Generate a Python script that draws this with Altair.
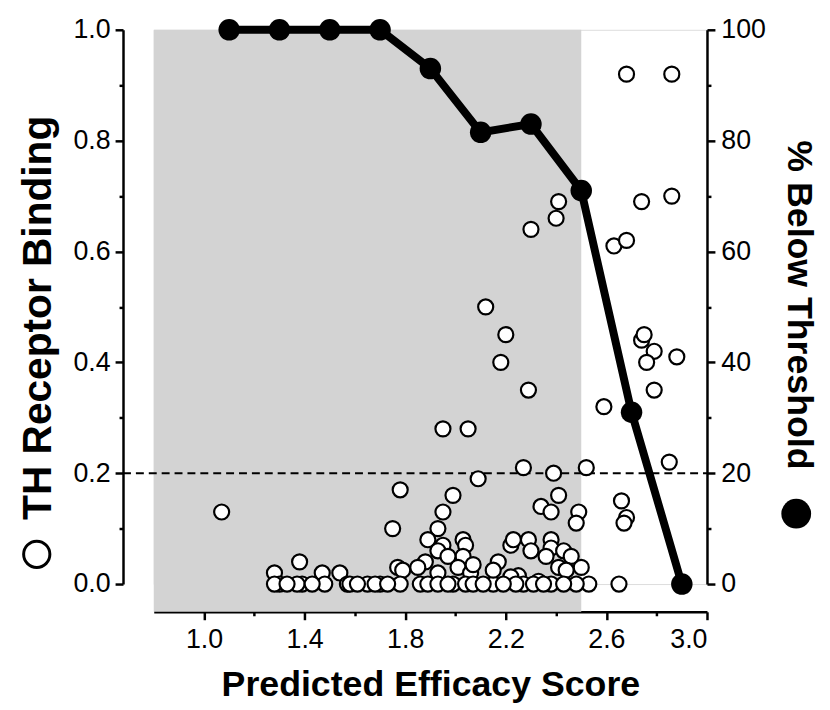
import altair as alt
import pandas as pd

# ---- data ----
score_x = [
    1.07, 2.12, 2.20, 2.18, 2.29, 2.30, 2.41, 2.40, 1.95, 2.05,
    2.27, 2.39, 2.52, 2.09, 1.78, 1.99, 2.41, 2.34, 2.38, 2.49,
    2.48, 2.68, 2.86, 2.74, 2.86, 2.63, 2.68, 2.74, 2.75, 2.79,
    2.76, 2.88, 2.79, 2.59, 2.85, 2.66, 2.68, 2.67, 2.50, 2.53,
    2.65,
    1.38, 1.28, 1.30, 1.28, 1.39, 1.37, 1.47, 1.48, 1.54, 1.57,
    1.75, 1.95, 1.93, 1.89, 1.95, 1.93, 2.03, 2.04, 2.03, 1.97,
    1.88, 1.85, 1.77, 1.79, 1.93, 2.01, 2.06, 2.07, 1.58, 1.65,
    1.70, 1.68, 1.78, 1.86, 1.89, 1.93, 1.99, 2.04, 2.07, 2.15,
    2.17, 2.15, 2.22, 2.23, 2.29, 2.30, 2.38, 2.38, 2.36, 2.43,
    2.46, 2.41, 2.44, 2.25, 2.22, 2.27, 2.24, 2.33, 2.38, 2.48,
    1.33, 1.43, 1.61, 1.73, 1.97, 2.11, 2.19, 2.31, 2.35, 2.43,
]
binding_y = [
    0.13, 0.50, 0.45, 0.40, 0.35, 0.64, 0.69, 0.66, 0.28, 0.28,
    0.21, 0.20, 0.21, 0.19, 0.17, 0.16, 0.16, 0.14, 0.13, 0.13,
    0.11, 0.92, 0.92, 0.69, 0.70, 0.61, 0.62, 0.44, 0.45, 0.42,
    0.40, 0.41, 0.35, 0.32, 0.22, 0.15, 0.12, 0.11, 0.03, 0.00,
    0.00,
    0.04, 0.02, 0.00, 0.00, 0.00, 0.00, 0.02, 0.00, 0.02, 0.00,
    0.10, 0.13, 0.10, 0.08, 0.07, 0.06, 0.08, 0.07, 0.05, 0.05,
    0.04, 0.03, 0.03, 0.025, 0.02, 0.03, 0.02, 0.035, 0.00, 0.00,
    0.00, 0.00, 0.00, 0.00, 0.00, 0.00, 0.00, 0.00, 0.00, 0.00,
    0.04, 0.025, 0.07, 0.08, 0.08, 0.06, 0.08, 0.065, 0.05, 0.06,
    0.05, 0.03, 0.025, 0.015, 0.013, 0.00, 0.00, 0.005, 0.00, 0.00,
    0.00, 0.00, 0.00, 0.00, 0.00, 0.00, 0.00, 0.00, 0.00, 0.00,
]

line_x = [1.1, 1.3, 1.5, 1.7, 1.9, 2.1, 2.3, 2.5, 2.7, 2.9]
line_pct = [100, 100, 100, 100, 93, 81.5, 83, 71, 31, 0]

shade_start = [0.8]
shade_end = [2.5]
shade_top = [1.0]
shade_bottom = [-0.05]
threshold = [0.2]

x_tick_values = [1.0, 1.2, 1.4, 1.6, 1.8, 2.0, 2.2, 2.4, 2.6, 2.8, 3.0]
x_tick_labels = ["1.0", "1.4", "1.8", "2.2", "2.6", "3.0"]
y_tick_values = [0.0, 0.1, 0.2, 0.3, 0.4, 0.5, 0.6, 0.7, 0.8, 0.9, 1.0]
y_tick_labels = ["0.0", "0.2", "0.4", "0.6", "0.8", "1.0"]
r_tick_values = [0, 10, 20, 30, 40, 50, 60, 70, 80, 90, 100]
r_tick_labels = ["0", "20", "40", "60", "80", "100"]

scatter_df = pd.DataFrame({"score": score_x, "binding": binding_y})
line_df = pd.DataFrame({"score": line_x, "pct": line_pct})
shade_df = pd.DataFrame({"x1": shade_start, "x2": shade_end,
                         "y1": shade_top, "y2": shade_bottom})
thr_df = pd.DataFrame({"thr": threshold})
sym_df = pd.DataFrame({"k": [0]})

W, H = 558, 559
FONT = "Liberation Sans"
LEFT_OFFSET = 31
BOTTOM_OFFSET = 28


def lab_test(fmt, labels):
    arr = "[" + ",".join("'%s'" % l for l in labels) + "]"
    return "indexof(%s, format(datum.value, '%s')) >= 0" % (arr, fmt)


x_test = lab_test(".1f", x_tick_labels)
y_test = lab_test(".1f", y_tick_labels)
r_test = lab_test("d", r_tick_labels)

common_axis = dict(
    domainColor="black", domainWidth=2.5, tickColor="black", tickWidth=2.5,
    labelFont=FONT, labelFontSize=27, labelColor="black",
    titleFont=FONT, titleFontWeight="bold", titleColor="black",
    grid=False,
)

x_axis = alt.Axis(
    values=x_tick_values,
    labelExpr="%s ? format(datum.value, '.1f') : ''" % x_test,
    tickSize={"condition": {"test": x_test, "value": 8}, "value": 4},
    offset=BOTTOM_OFFSET, labelPadding=7, titlePadding=15, titleFontSize=36,
    title="Predicted Efficacy Score", **common_axis,
)
y_axis = alt.Axis(
    values=y_tick_values,
    labelExpr="%s ? format(datum.value, '.1f') : ''" % y_test,
    tickSize={"condition": {"test": y_test, "value": 8}, "value": 4},
    offset=LEFT_OFFSET, labelPadding=5, titlePadding=14, titleFontSize=41,
    title="TH Receptor Binding", titleY=290, **common_axis,
)
r_axis = alt.Axis(
    values=r_tick_values, orient="right",
    labelExpr="%s ? format(datum.value, 'd') : ''" % r_test,
    tickSize={"condition": {"test": r_test, "value": 8}, "value": 4},
    offset=0, labelPadding=6, titlePadding=14, titleAngle=90, titleY=277,
    titleFontSize=36, title="% Below Threshold", **common_axis,
)

xscale = alt.Scale(domain=[0.8, 3.0], nice=False, zero=False)
yscale = alt.Scale(domain=[0, 1], nice=False, zero=False)
rscale = alt.Scale(domain=[0, 100], nice=False)

shade = alt.Chart(shade_df).mark_rect(color="#d3d3d3").encode(
    x=alt.X("x1:Q", scale=xscale, axis=x_axis),
    x2="x2:Q",
    y=alt.Y("y1:Q", scale=yscale, axis=y_axis),
    y2="y2:Q",
)

rule = alt.Chart(thr_df).mark_rule(
    color="black", strokeWidth=2, strokeDash=[8, 5]
).encode(
    y=alt.Y("thr:Q", scale=yscale, axis=y_axis),
    x=alt.value(-LEFT_OFFSET),
    x2=alt.value(W),
)

scatter = alt.Chart(scatter_df).mark_point(
    shape="circle", filled=True, fill="white", stroke="black",
    strokeWidth=2.2, size=230, opacity=1,
).encode(
    x=alt.X("score:Q", scale=xscale, axis=x_axis),
    y=alt.Y("binding:Q", scale=yscale, axis=y_axis),
)

# open-circle symbol that precedes the left axis title
left_sym = alt.Chart(sym_df).mark_point(
    shape="circle", filled=False, stroke="black", strokeWidth=3, size=700,
    opacity=1,
).encode(x=alt.value(-118), y=alt.value(529))

line = alt.Chart(line_df).mark_line(color="black", strokeWidth=8).encode(
    x=alt.X("score:Q", scale=xscale, axis=x_axis),
    y=alt.Y("pct:Q", scale=rscale, axis=r_axis),
)
dots = alt.Chart(line_df).mark_point(
    shape="circle", filled=True, color="black", size=470, opacity=1
).encode(
    x=alt.X("score:Q", scale=xscale, axis=x_axis),
    y=alt.Y("pct:Q", scale=rscale, axis=r_axis),
)
# filled symbol that follows the right axis title
right_sym = alt.Chart(sym_df).mark_point(
    shape="circle", filled=True, color="black", size=900, opacity=1
).encode(x=alt.value(648), y=alt.value(488))

left_group = alt.layer(shade, rule, scatter)
right_group = alt.layer(line, dots)

chart = alt.layer(left_group, right_group, left_sym, right_sym).resolve_scale(
    y="independent"
).properties(
    width=W, height=H,
    padding={"left": 9, "top": 3, "right": 5, "bottom": 0},
).configure_view(stroke=None).configure(background="white")

chart.save("out.html", embed_options={"renderer": "svg", "actions": False})
